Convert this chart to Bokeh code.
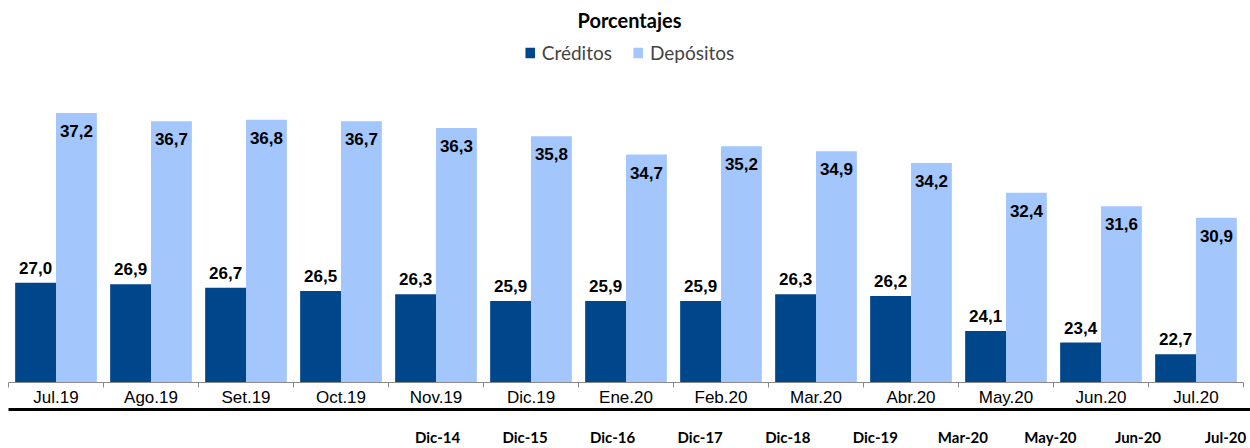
from bokeh.plotting import figure
from bokeh.models import Range1d, LinearAxis, FixedTicker, Legend, LegendItem
from bokeh.embed import file_html
from bokeh.resources import INLINE
from bokeh.core.properties import value

months = ["Jul.19", "Ago.19", "Set.19", "Oct.19", "Nov.19", "Dic.19", "Ene.20",
          "Feb.20", "Mar.20", "Abr.20", "May.20", "Jun.20", "Jul.20"]
creditos = [27.0, 26.9, 26.7, 26.5, 26.3, 25.9, 25.9, 25.9, 26.3, 26.2, 24.1, 23.4, 22.7]
depositos = [37.2, 36.7, 36.8, 36.7, 36.3, 35.8, 34.7, 35.2, 34.9, 34.2, 32.4, 31.6, 30.9]
periodos = ["Dic-14", "Dic-15", "Dic-16", "Dic-17", "Dic-18", "Dic-19",
            "Mar-20", "May-20", "Jun-20", "Jul-20"]

DARK = "#00468B"
LIGHT = "#A3C7FD"

n = len(months)
centers = [i + 0.5 for i in range(n)]
bw = 0.43

def fmt(v):
    return f"{v:.1f}".replace(".", ",")

p = figure(width=1250, height=448, output_backend="svg", toolbar_location=None,
           x_range=Range1d(0, n * 1242 / 1235), y_range=Range1d(21, 41.8),
           min_border_left=8, min_border_right=0, min_border_top=4, min_border_bottom=0,
           x_axis_location=None, y_axis_location=None)
p.outline_line_color = None
p.xgrid.visible = False
p.ygrid.visible = False

p.title.text = "Porcentajes"
p.title.align = "center"
p.title.text_font = "Lato"
p.title.text_font_style = "bold"
p.title.text_font_size = "20px"
p.title.text_color = "black"

xc = [c - bw / 2 for c in centers]
xd = [c + bw / 2 for c in centers]
r1 = p.vbar(x=xc, top=creditos, bottom=0, width=bw, fill_color=DARK, line_color=None)
r2 = p.vbar(x=xd, top=depositos, bottom=0, width=bw, fill_color=LIGHT, line_color=None)

p.text(x=xc, y=creditos, text=[fmt(v) for v in creditos], text_align="center",
       text_baseline="bottom", y_offset=-9, text_font=value("Liberation Sans"),
       text_font_style="bold", text_font_size="17px", text_color="black")
p.text(x=xd, y=depositos, text=[fmt(v) for v in depositos], text_align="center",
       text_baseline="top", y_offset=12, text_font=value("Liberation Sans"),
       text_font_style="bold", text_font_size="17px", text_color="black")

legend = Legend(items=[LegendItem(label="Créditos", renderers=[r1]),
                       LegendItem(label="Depósitos", renderers=[r2])],
                orientation="horizontal", location="top_center")
legend.border_line_alpha = 0
legend.background_fill_alpha = 0
legend.glyph_width = 12
legend.glyph_height = 13
legend.label_text_font = "Lato"
legend.label_text_font_size = "19px"
legend.spacing = 20
legend.padding = 0
legend.margin = 5
legend.label_standoff = 6
p.add_layout(legend)

ax = LinearAxis(ticker=FixedTicker(ticks=centers, minor_ticks=list(range(n + 1))),
                major_label_overrides={c: m for c, m in zip(centers, months)},
                bounds=(0, n),
                major_tick_out=0, major_tick_in=0, minor_tick_out=5, minor_tick_in=0,
                axis_line_color="#8A8A8A", minor_tick_line_color="#8A8A8A",
                major_label_text_font="Liberation Sans", major_label_text_font_size="17px",
                major_label_text_color="black", major_label_standoff=0)
p.add_layout(ax, "below")

p.extra_x_ranges = {"per": Range1d(-4.9, 9.285)}
ax2 = LinearAxis(x_range_name="per", ticker=FixedTicker(ticks=list(range(len(periodos)))),
                 major_label_overrides={i: s for i, s in enumerate(periodos)},
                 major_tick_out=0, major_tick_in=0, minor_tick_out=0, minor_tick_in=0,
                 axis_line_width=3, axis_line_color="black",
                 major_label_text_font="Lato", major_label_text_font_style="bold",
                 major_label_text_font_size="15px", major_label_text_color="black",
                 major_label_standoff=18)
p.add_layout(ax2, "below")

open("out.html", "w").write(file_html(p, INLINE))
